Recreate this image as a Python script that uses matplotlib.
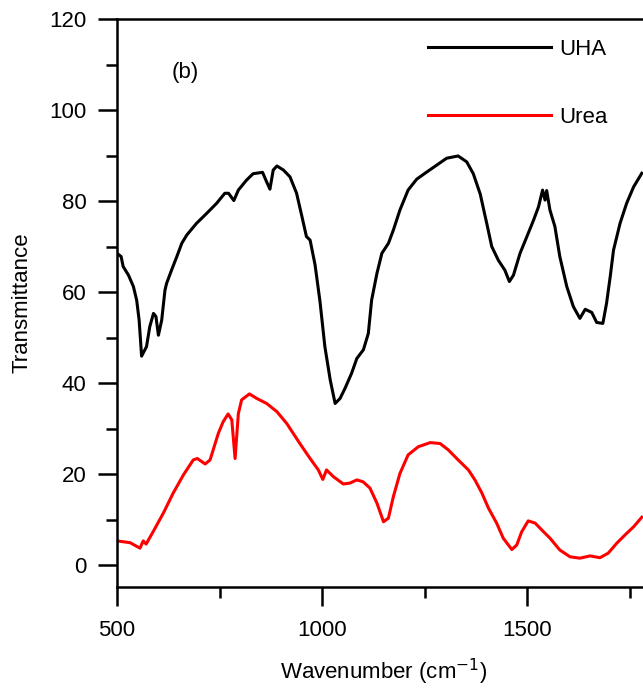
import matplotlib
matplotlib.use("Agg")
import matplotlib.pyplot as plt
from matplotlib.ticker import MultipleLocator

plt.rcParams['font.family'] = ['Liberation Sans', 'DejaVu Sans']

# UHA spectrum (black)
uha_x = [500, 510, 515, 528, 540, 548, 554, 560, 572, 580, 589, 595, 601, 609, 617,
         621, 633, 646, 658, 670, 694, 719, 743, 763, 772, 785, 796, 816, 832, 855,
         865, 873, 881, 890, 906, 922, 938, 950, 962, 971, 983, 995, 1007, 1020, 1032,
         1044, 1056, 1072, 1085, 1101, 1113, 1121, 1134, 1146, 1162, 1174, 1190, 1210,
         1231, 1256, 1280, 1304, 1332, 1353, 1369, 1386, 1402, 1414, 1430, 1446, 1457,
         1467, 1483, 1503, 1516, 1528, 1538, 1544, 1548, 1556, 1568, 1580, 1597, 1613,
         1629, 1642, 1658, 1670, 1685, 1694, 1703, 1711, 1727, 1743, 1760, 1780]
uha_y = [68.5, 67.8, 65.6, 63.7, 61.2, 58.2, 53.8, 45.9, 48.0, 52.4, 55.3, 54.6, 50.5, 53.8, 60.4,
         61.9, 64.8, 67.8, 70.7, 72.5, 75.1, 77.3, 79.5, 81.7, 81.7, 80.1, 82.4, 84.6, 86.0, 86.3,
         84.2, 82.6, 86.8, 87.7, 86.8, 85.3, 81.7, 77.0, 72.2, 71.4, 66.0, 58.0, 48.0, 40.7, 35.5,
         36.6, 38.8, 42.1, 45.4, 47.3, 50.9, 58.2, 64.1, 68.5, 70.7, 73.6, 78.0, 82.4,
         84.8, 86.4, 87.9, 89.4, 89.9, 88.6, 86.0, 81.5, 75.0, 70.0, 67.0, 64.8, 62.3,
         63.7, 68.5, 72.9, 75.8, 78.7, 82.4, 80.2, 82.3, 78.0, 74.4, 67.8, 61.2, 56.8,
         54.2, 56.2, 55.5, 53.3, 53.1, 57.5, 63.4, 69.2, 75.1, 79.5, 83.1, 86.1]

# Urea spectrum (red)
urea_x = [500, 532, 556, 564, 571, 588, 613, 637, 662, 686, 696, 715, 727, 747, 759,
          771, 780, 788, 796, 804, 823, 841, 865, 890, 914, 946, 971, 991, 1002, 1011,
          1028, 1052, 1068, 1085, 1100, 1117, 1134, 1150, 1162, 1174, 1190, 1210, 1235,
          1264, 1288, 1308, 1332, 1357, 1373, 1390, 1406, 1426, 1442, 1463, 1475, 1487,
          1503, 1520, 1536, 1556, 1580, 1605, 1629, 1654, 1678, 1698, 1719, 1739, 1760, 1780]
urea_y = [5.3, 4.9, 3.7, 5.3, 4.6, 7.3, 11.4, 15.8, 19.8, 23.1, 23.4, 22.2, 23.1, 28.9, 31.5,
          33.2, 31.9, 23.4, 33.3, 36.3, 37.6, 36.6, 35.5, 33.7, 31.1, 26.7, 23.4, 20.9, 18.8, 20.9,
          19.4, 17.8, 18.0, 18.7, 18.3, 16.9, 13.6, 9.5, 10.3, 15.0, 20.1, 24.2, 26.0,
          26.9, 26.7, 25.3, 23.1, 20.9, 18.7, 15.8, 12.5, 9.2, 5.9, 3.4, 4.4, 7.3,
          9.7, 9.2, 7.7, 5.9, 3.3, 1.8, 1.5, 2.0, 1.6, 2.6, 4.8, 6.6, 8.4, 10.5]

fig = plt.figure(figsize=(6.43, 6.88), dpi=100)
ax = fig.add_axes([117 / 643, 1 - 587 / 688, (650 - 117) / 643, (587 - 19) / 688])

ax.plot(uha_x, uha_y, color='black', lw=2.2, label='UHA')
ax.plot(urea_x, urea_y, color='#ff0000', lw=2.2, label='Urea')

ax.set_xlim(500, 1800)
ax.set_ylim(-4.835, 120)
ax.xaxis.set_major_locator(MultipleLocator(500))
ax.xaxis.set_minor_locator(MultipleLocator(250))
ax.yaxis.set_major_locator(MultipleLocator(20))
ax.yaxis.set_minor_locator(MultipleLocator(10))

for s in ax.spines.values():
    s.set_linewidth(1.8)
ax.spines['right'].set_visible(False)

ax.tick_params(which='major', direction='out', length=14, width=1.8, labelsize=16)
ax.tick_params(which='minor', direction='out', length=8, width=1.8)
ax.tick_params(axis='x', which='major', pad=10)
ax.tick_params(axis='y', which='major', pad=8)

ax.set_xlabel('Wavenumber (cm$^{-1}$)', fontsize=16, labelpad=11)
ax.set_ylabel('Transmittance', fontsize=16, labelpad=12)

ax.text(0.128, 0.905, '(b)', transform=ax.transAxes, fontsize=16, ha='center', va='center')

ax.legend(loc='upper left', bbox_to_anchor=(428 / 643, 1 - 39 / 688), bbox_transform=fig.transFigure,
          frameon=False, fontsize=16, handlelength=5.55, handletextpad=0.36, labelspacing=2.1,
          borderpad=0, borderaxespad=0)

fig.savefig('out.png', dpi=100)
